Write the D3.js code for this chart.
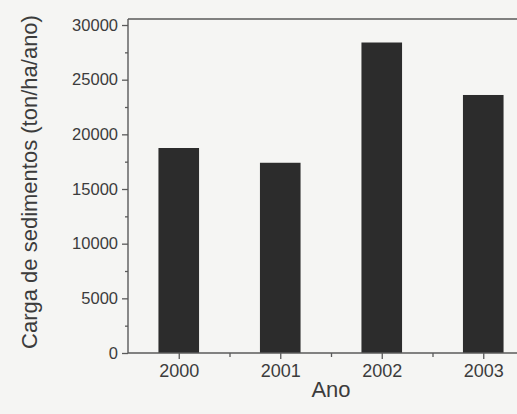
<!DOCTYPE html>
<html>
<head>
<meta charset="utf-8">
<script src="https://cdn.jsdelivr.net/npm/d3@7"></script>
<style>
  html, body { margin: 0; padding: 0; background: #f5f5f3; }
  svg { display: block; }
  text { font-family: "Liberation Sans", Arial, sans-serif; fill: #3c3c3c; }
</style>
</head>
<body>
<svg id="chart" width="517" height="414"></svg>
<script>
// Annual sediment load per year
const years = [2000, 2001, 2002, 2003];
const loads = [18750, 17400, 28400, 23600];
const yTickValues = [0, 5000, 10000, 15000, 20000, 25000, 30000];
const yMinorValues = [2500, 7500, 12500, 17500, 22500, 27500];
const xMinorValues = [2000.5, 2001.5, 2002.5];
const xTitle = "Ano";
const yTitle = "Carga de sedimentos (ton/ha/ano)";

const svg = d3.select("#chart");
const plotLeft = 128, plotRight = 534, plotTop = 19, plotBottom = 353;

const x = d3.scaleLinear().domain([1999.5, 2003.5]).range([plotLeft, plotRight]);
const y = d3.scaleLinear().domain([0, 30550]).range([plotBottom, plotTop]);

const axisColor = "#5a5a5a";

// plot frame (top and right edges)
svg.append("path")
  .attr("d", `M${plotLeft},${plotTop}H${plotRight}V${plotBottom}`)
  .attr("fill", "none")
  .attr("stroke", axisColor)
  .attr("stroke-width", 1.4);

// bars
const barHalf = 0.2;
svg.append("g").selectAll("rect")
  .data(years.map((yr, i) => ({ yr, v: loads[i] })))
  .join("rect")
  .attr("x", d => x(d.yr - barHalf))
  .attr("width", d => x(d.yr + barHalf) - x(d.yr - barHalf))
  .attr("y", d => y(d.v))
  .attr("height", d => y(0) - y(d.v))
  .attr("fill", "#2c2c2c");

// y axis: major ticks with labels, minor ticks without
const yAxis = d3.axisLeft(y).tickValues(yTickValues).tickSize(6).tickPadding(4).tickFormat(d3.format("d"));
const gy = svg.append("g").attr("transform", `translate(${plotLeft},0)`).call(yAxis);
gy.select(".domain").attr("d", `M0,${plotBottom}V${plotTop}`);
const yMinor = d3.axisLeft(y).tickValues(yMinorValues).tickSize(3).tickFormat("");
const gym = svg.append("g").attr("transform", `translate(${plotLeft},0)`).call(yMinor);
gym.select(".domain").remove();

// x axis
const xAxis = d3.axisBottom(x).tickValues(years).tickSize(6).tickPadding(5).tickFormat(d3.format("d"));
const gx = svg.append("g").attr("transform", `translate(0,${plotBottom})`).call(xAxis);
gx.select(".domain").attr("d", `M${plotLeft},0H${plotRight}`);
const xMinor = d3.axisBottom(x).tickValues(xMinorValues).tickSize(4).tickFormat("");
const gxm = svg.append("g").attr("transform", `translate(0,${plotBottom})`).call(xMinor);
gxm.select(".domain").remove();

[gy, gym, gx, gxm].forEach(g => {
  g.selectAll(".domain").attr("stroke", axisColor).attr("stroke-width", 1.4);
  g.selectAll(".tick line").attr("stroke", axisColor).attr("stroke-width", 1.3);
});
gy.selectAll(".tick text").attr("font-size", 16.5).attr("fill", "#3c3c3c")
  .style("font-family", "'Liberation Sans', Arial, sans-serif");
gx.selectAll(".tick text").attr("font-size", 18).attr("fill", "#3c3c3c")
  .style("font-family", "'Liberation Sans', Arial, sans-serif");

// axis titles
svg.append("text")
  .attr("x", (plotLeft + plotRight) / 2)
  .attr("y", 397)
  .attr("text-anchor", "middle")
  .attr("font-size", 22)
  .text(xTitle);

svg.append("text")
  .attr("transform", `translate(37,${(plotTop + plotBottom) / 2 - 4}) rotate(-90)`)
  .attr("text-anchor", "middle")
  .attr("font-size", 22)
  .text(yTitle);
</script>
</body>
</html>
